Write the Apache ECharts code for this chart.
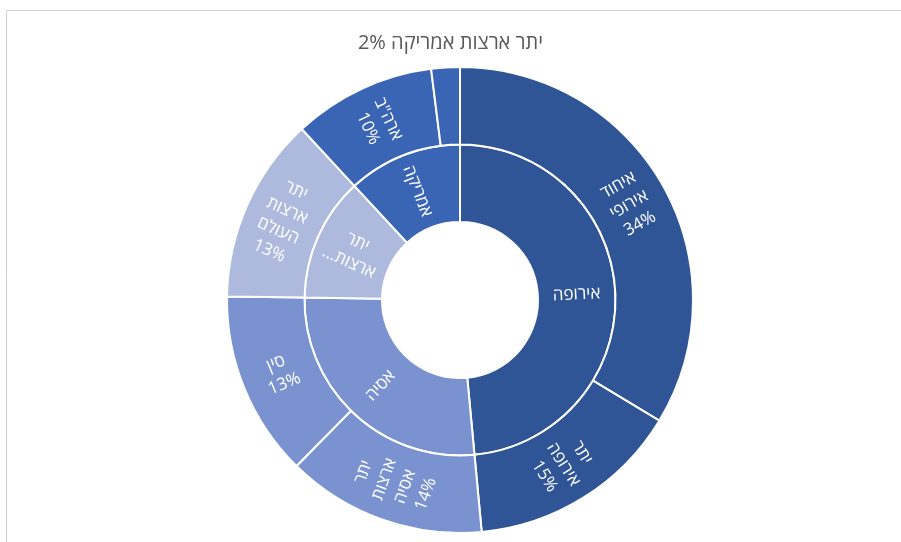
<!DOCTYPE html>
<html>
<head>
<meta charset="utf-8">
<script src="https://cdn.jsdelivr.net/npm/echarts@6/dist/echarts.min.js"></script>
<style>
    html, body { margin: 0; padding: 0; background: #fff; }
    #chart { width: 901px; height: 542px; }
</style>
</head>
<body>
<div id="chart" dir="rtl"></div>
<script>
// אזורים (טבעת פנימית) ומדינות (טבעת חיצונית)
const regions = ['אירופה', 'אסיה', 'יתר ארצות העולם', 'אמריקה'];
const countries = [
    ['איחוד אירופי', 'יתר אירופה'],
    ['יתר ארצות אסיה', 'סין'],
    ['יתר ארצות העולם'],
    ['ארה"ב', 'יתר ארצות אמריקה']
];
const shares = [
    [34, 15],
    [14, 13],
    [13],
    [10, 2]
];

const palette = ['#2F5597', '#7A93D0', '#AEBADD', '#3A64B4'];
const fontFamily = "'Open Sans', 'DejaVu Sans', sans-serif";

let data = regions.map(function (name, i) {
    return {
        name: name,
        itemStyle: { color: palette[i] },
        children: countries[i].map(function (c, j) {
            let item = { name: c, value: shares[i][j], itemStyle: { color: palette[i] } };
            // the small slice is labelled outside, above the chart
            if (shares[i][j] < 5) item.label = { show: false };
            return item;
        })
    };
});

// label of the tiny slice, shown on top like in the original
let smallLabel = countries[3][1] + ' ' + shares[3][1] + '%';

let myChart = echarts.init(document.getElementById('chart'));
let option = {
    animation: false,
    title: {
        text: smallLabel,
        left: 'center',
        top: 28,
        textStyle: {
            color: '#595959',
            fontSize: 20,
            fontWeight: 'normal',
            fontFamily: fontFamily
        }
    },
    graphic: [
        {
            type: 'rect',
            shape: { x: 6.5, y: 10.5, width: 1000, height: 1000 },
            style: { fill: 'none', stroke: '#D0D0D0', lineWidth: 1 },
            silent: true
        }
    ],
    series: [
        {
            type: 'sunburst',
            center: [460, 300],
            radius: [78, 233],
            sort: null,
            nodeClick: false,
            startAngle: 90,
            emphasis: { disabled: true },
            itemStyle: {
                borderColor: '#fff',
                borderWidth: 2
            },
            label: {
                color: '#fff',
                fontSize: 17,
                lineHeight: 22,
                fontFamily: fontFamily,
                rotate: 'radial'
            },
            levels: [
                {},
                {
                    label: {
                        formatter: function (p) {
                            let w = p.name.split(' ');
                            if (w.length > 2) return w[0] + '\n' + w[1] + '...';
                            return w.join('\n');
                        }
                    }
                },
                {
                    label: {
                        formatter: function (p) {
                            return p.name.split(' ').join('\n') + '\n' + p.value + '%';
                        }
                    }
                }
            ],
            data: data
        }
    ]
};
option && myChart.setOption(option);
</script>
</body>
</html>
